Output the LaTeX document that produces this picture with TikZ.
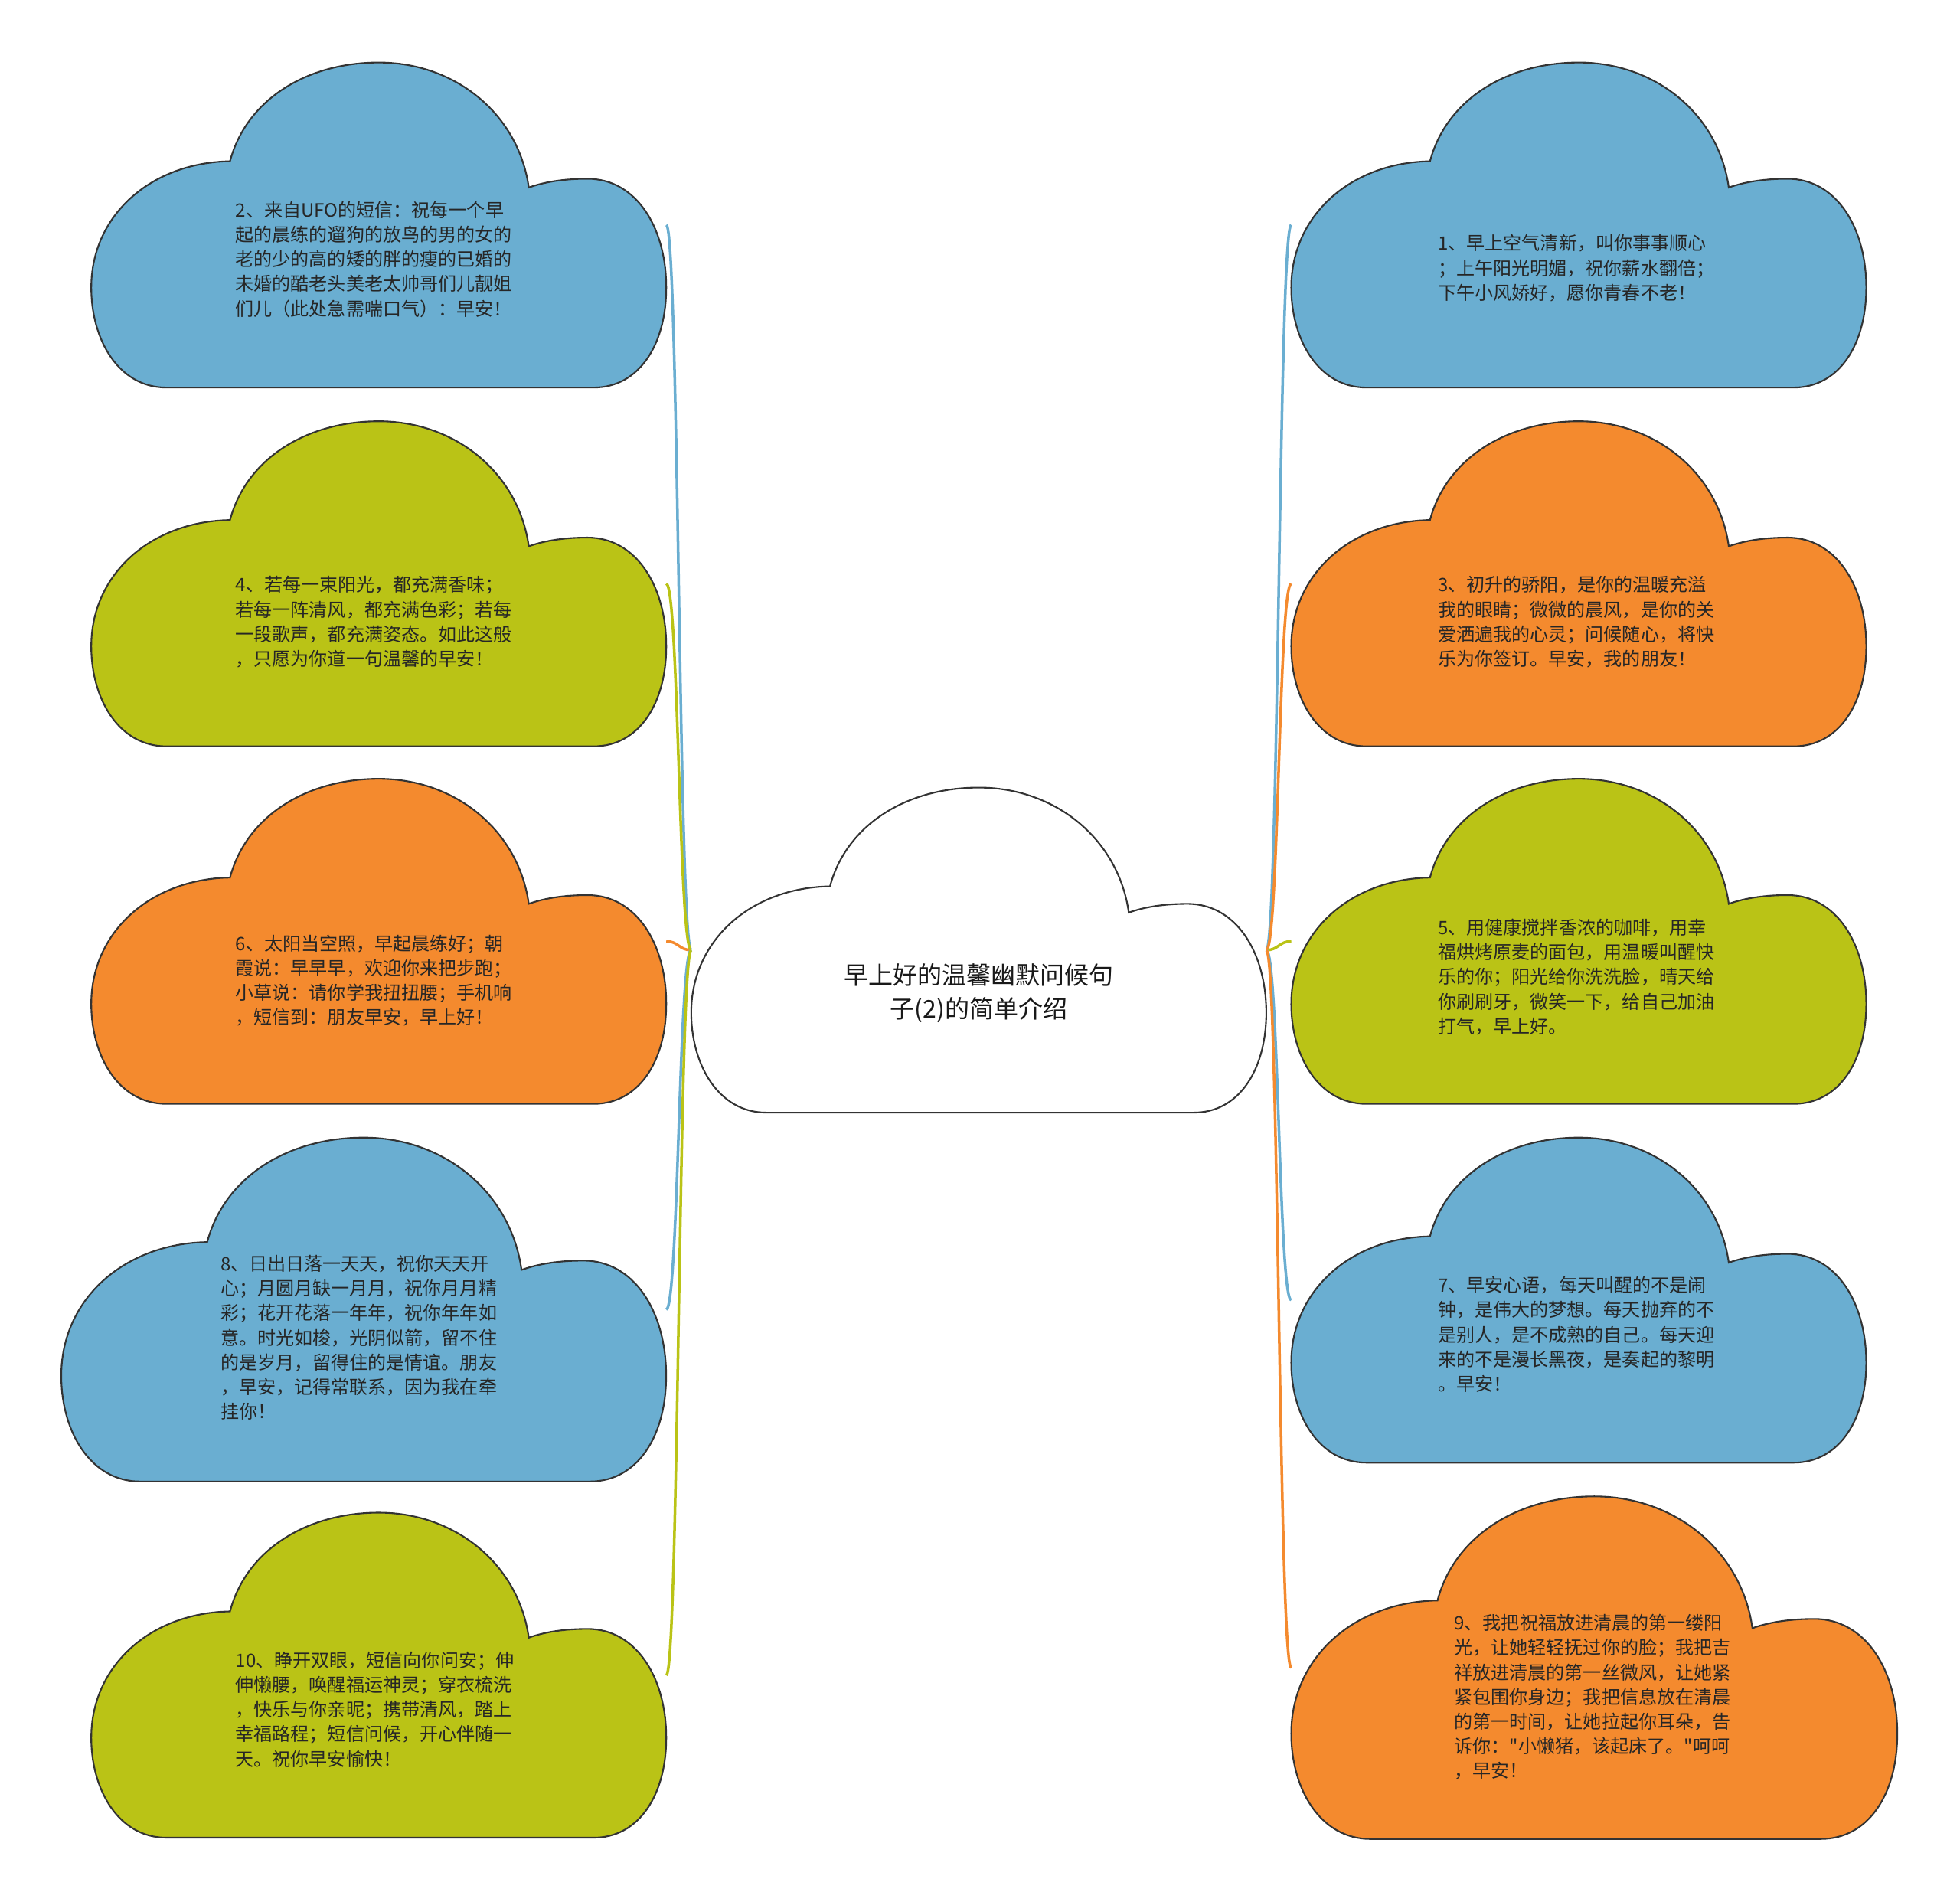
\documentclass[tikz,border=0pt]{standalone}
\usepackage{fontspec}
\setmainfont{Noto Sans CJK SC}[Ligatures=TeXOff]
\definecolor{skyC}{RGB}{106,174,209}
\definecolor{limeC}{RGB}{186,195,22}
\definecolor{tangC}{RGB}{244,138,46}
\begin{document}
\begin{tikzpicture}[x=0.1633mm, y=-0.1633mm,
  pics/puff/.style={code={
    \filldraw[fill=#1, draw=black!80, line width=0.6pt]
      (60,260) .. controls (22,260) and (0,222) .. (0,180)
      .. controls (0,122) and (48,80) .. (111,79)
      .. controls (124,30) and (172,0) .. (230,0)
      .. controls (292,0) and (342,42) .. (350,100)
      .. controls (364,95) and (380,93) .. (397,93)
      .. controls (436,93) and (460,132) .. (460,180)
      .. controls (460,226) and (438,260) .. (402,260)
      -- cycle;
    \coordinate (-west) at (0,130);
    \coordinate (-east) at (460,130);
  }},
  msg/.style={anchor=west, align=left, inner sep=0pt, text=black!85,
    font=\fontsize{6.85}{9.15}\selectfont},
  ttl/.style={align=center, inner sep=0pt, text=black!90,
    font=\fontsize{9.1}{12.5}\selectfont},
  link/.style={draw=#1, line width=1pt}
]
  \useasboundingbox (0,0) rectangle (1568,1521);

  % centre
  \pic (root) at (553,630) {puff=white};
  \node[ttl] (title) at (783,794.5) {早上好的温馨幽默问候句\\子(2)的简单介绍};

  % left side
  \pic (c2) at (73,50) {puff=skyC};
  \node[msg] (t2) at (188,207.5) {2、来自UFO的短信：祝每一个早\\起的晨练的遛狗的放鸟的男的女的\\老的少的高的矮的胖的瘦的已婚的\\未婚的酷老头美老太帅哥们儿靓姐\\们儿（此处急需喘口气）：早安！};
  \pic (c4) at (73,337) {puff=limeC};
  \node[msg] (t4) at (188,497.5) {4、若每一束阳光，都充满香味；\\若每一阵清风，都充满色彩；若每\\一段歌声，都充满姿态。如此这般\\，只愿为你道一句温馨的早安！};
  \pic (c6) at (73,623) {puff=tangC};
  \node[msg] (t6) at (188,784.5) {6、太阳当空照，早起晨练好；朝\\霞说：早早早，欢迎你来把步跑；\\小草说：请你学我扭扭腰；手机响\\，短信到：朋友早安，早上好！};
  \pic[xscale=1.052, yscale=1.058] (c8) at (49,910) {puff=skyC};
  \node[msg] (t8) at (176,1070) {8、日出日落一天天，祝你天天开\\心；月圆月缺一月月，祝你月月精\\彩；花开花落一年年，祝你年年如\\意。时光如梭，光阴似箭，留不住\\的是岁月，留得住的是情谊。朋友\\，早安，记得常联系，因为我在牵\\挂你！};
  \pic (c10) at (73,1210) {puff=limeC};
  \node[msg] (t10) at (188,1367.5) {10、睁开双眼，短信向你问安；伸\\伸懒腰，唤醒福运神灵；穿衣梳洗\\，快乐与你亲昵；携带清风，踏上\\幸福路程；短信问候，开心伴随一\\天。祝你早安愉快！};

  % right side
  \pic (c1) at (1033,50) {puff=skyC};
  \node[msg] (t1) at (1150,214.5) {1、早上空气清新，叫你事事顺心\\；上午阳光明媚，祝你薪水翻倍；\\下午小风娇好，愿你青春不老！};
  \pic (c3) at (1033,337) {puff=tangC};
  \node[msg] (t3) at (1150,497.5) {3、初升的骄阳，是你的温暖充溢\\我的眼睛；微微的晨风，是你的关\\爱洒遍我的心灵；问候随心，将快\\乐为你签订。早安，我的朋友！};
  \pic (c5) at (1033,623) {puff=limeC};
  \node[msg] (t5) at (1150,781.5) {5、用健康搅拌香浓的咖啡，用幸\\福烘烤原麦的面包，用温暖叫醒快\\乐的你；阳光给你洗洗脸，晴天给\\你刷刷牙，微笑一下，给自己加油\\打气，早上好。};
  \pic (c7) at (1033,910) {puff=skyC};
  \node[msg] (t7) at (1150,1067.5) {7、早安心语，每天叫醒的不是闹\\钟，是伟大的梦想。每天抛弃的不\\是别人，是不成熟的自己。每天迎\\来的不是漫长黑夜，是奏起的黎明\\。早安！};
  \pic[xscale=1.054, yscale=1.054] (c9) at (1033,1197) {puff=tangC};
  \node[msg] (t9) at (1163,1357.5) {9、我把祝福放进清晨的第一缕阳\\光，让她轻轻抚过你的脸；我把吉\\祥放进清晨的第一丝微风，让她紧\\紧包围你身边；我把信息放在清晨\\的第一时间，让她拉起你耳朵，告\\诉你："小懒猪，该起床了。"呵呵\\，早安！};

  % branches
  \draw[link=skyC]  (root-west) .. controls +(-10,0) and +(10,0) .. (c2-east);
  \draw[link=limeC] (root-west) .. controls +(-10,0) and +(10,0) .. (c4-east);
  \draw[link=tangC] (root-west) .. controls +(-10,0) and +(10,0) .. (c6-east);
  \draw[link=skyC]  (root-west) .. controls +(-10,0) and +(10,0) .. (c8-east);
  \draw[link=limeC] (root-west) .. controls +(-10,0) and +(10,0) .. (c10-east);
  \draw[link=skyC]  (root-east) .. controls +(10,0) and +(-10,0) .. (c1-west);
  \draw[link=tangC] (root-east) .. controls +(10,0) and +(-10,0) .. (c3-west);
  \draw[link=limeC] (root-east) .. controls +(10,0) and +(-10,0) .. (c5-west);
  \draw[link=skyC]  (root-east) .. controls +(10,0) and +(-10,0) .. (c7-west);
  \draw[link=tangC] (root-east) .. controls +(10,0) and +(-10,0) .. (c9-west);
\end{tikzpicture}
\end{document}
